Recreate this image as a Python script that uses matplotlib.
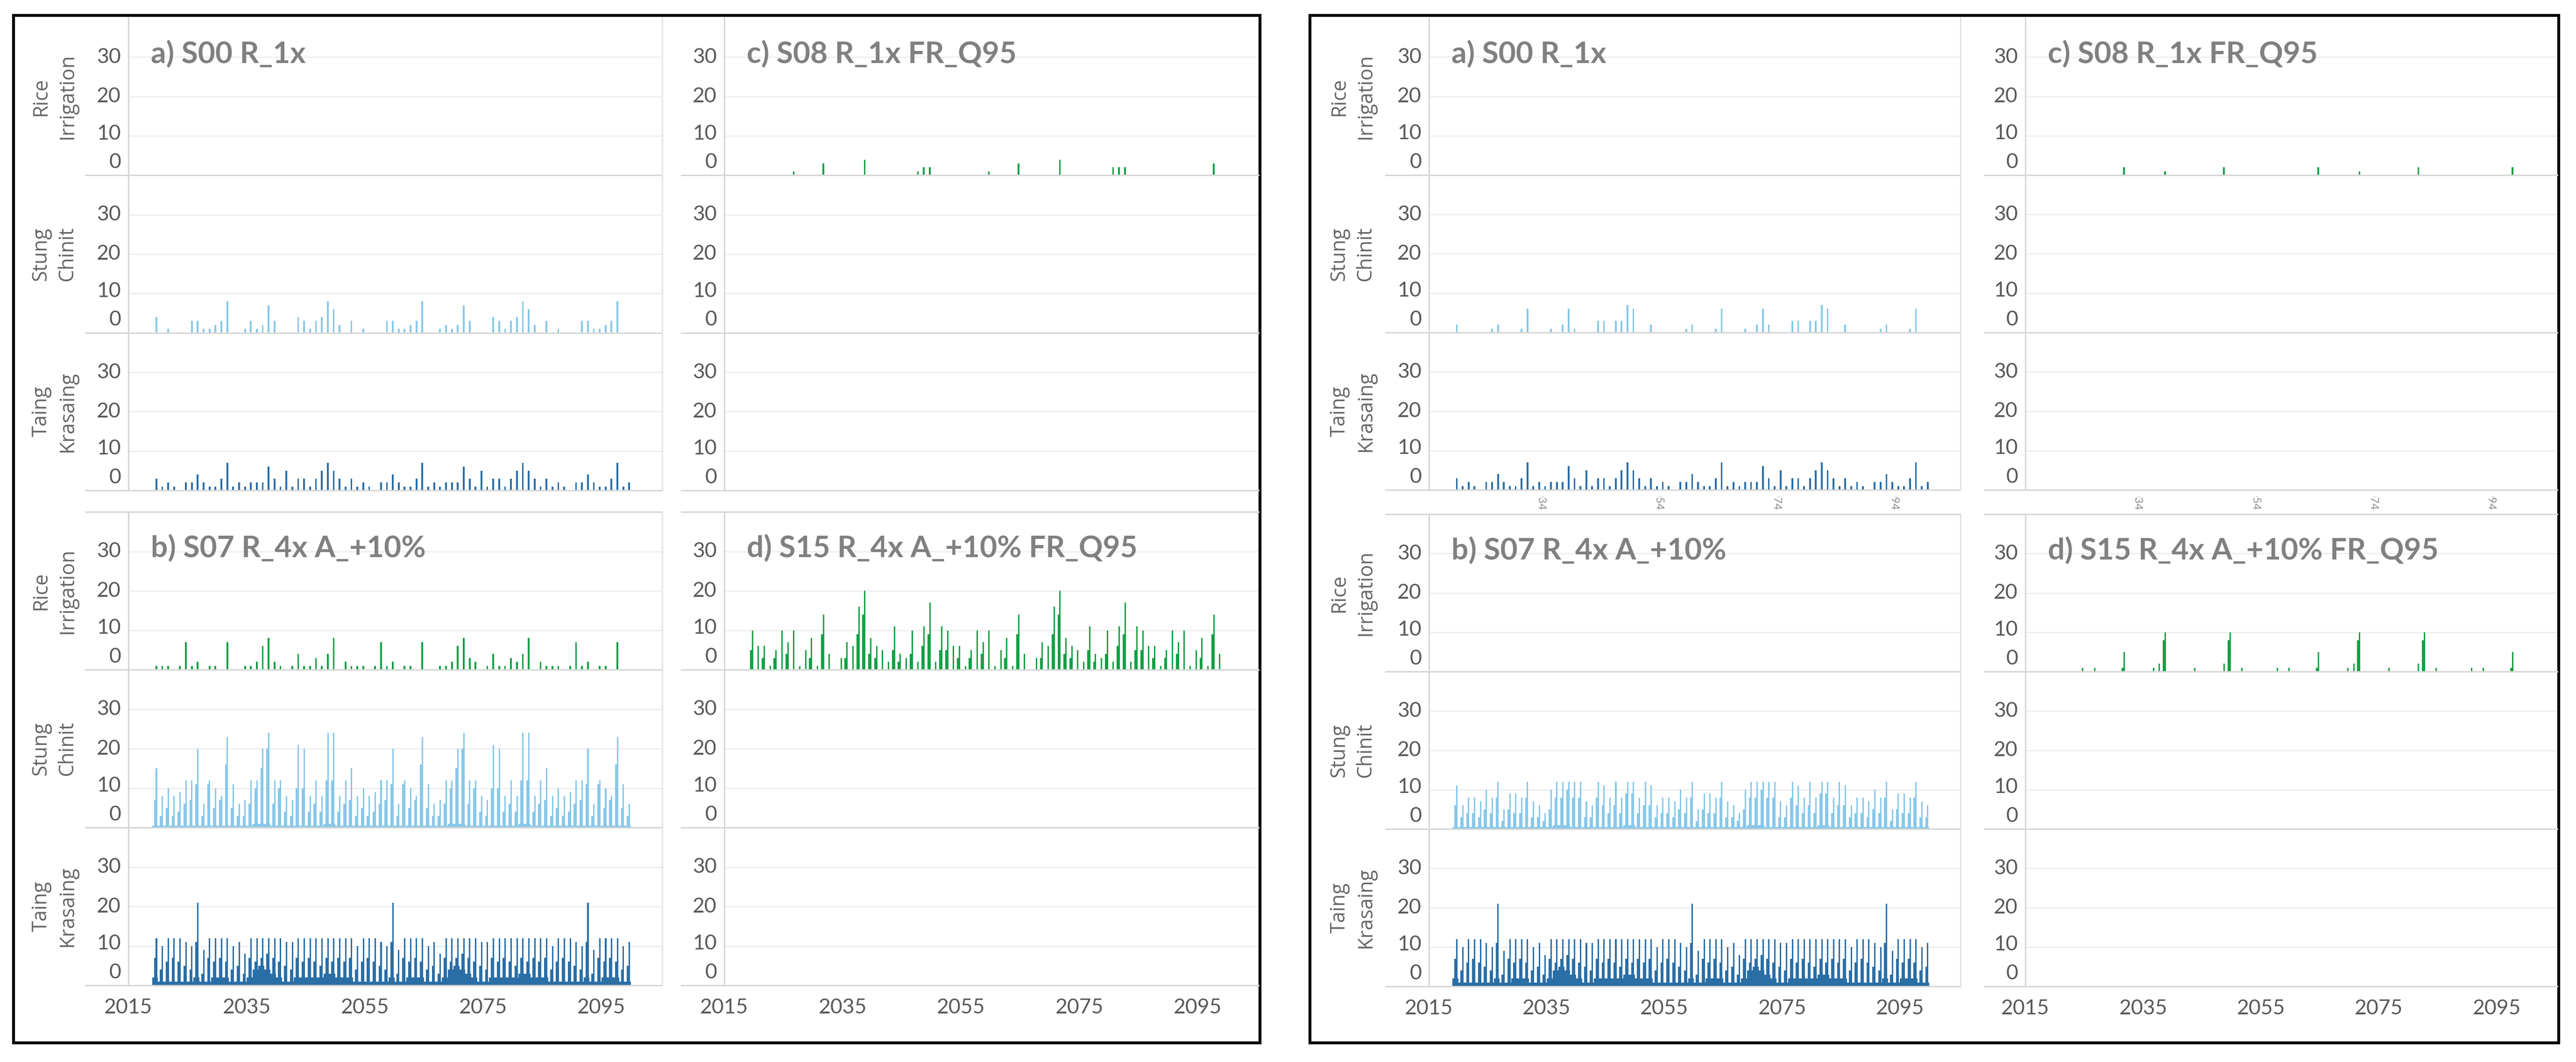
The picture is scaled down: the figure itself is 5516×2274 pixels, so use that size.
import numpy as np
import matplotlib.pyplot as plt
from matplotlib.lines import Line2D
from matplotlib.patches import Rectangle

plt.rcParams['font.family'] = ['Lato', 'DejaVu Sans']

W, H, DPI = 5516, 2274, 100

# one value per year, 2019..2099
years = np.arange(2019, 2100)

rows = ['Rice\nIrrigation', 'Stung\nChinit', 'Taing\nKrasaing']
xticks = [2015, 2035, 2055, 2075, 2095]
strip_ticks = [2034, 2054, 2074, 2094]

# ---------------- left figure ----------------
sc_a_left = [4,0,1,0,0,0,3,3,1,1,2,3,8,0,0,1,3,1,2,7,3,0,0,0,4,3,1,3,4,8,6,2,0,
             3,0,1,0,0,0,3,3,1,1,2,3,8,0,0,1,2,1,2,7,3,0,0,0,4,3,1,3,4,8,6,2,0,
             3,0,1,0,0,0,3,3,1,1,2,3,8,0,0]
tk_a = [3,1,2,1,0,2,2,4,2,1,1,3,7,1,2,1,2,2,2,6,3,1,5,1,3,3,1,3,5,7,5,3,1,
        3,1,2,1,0,2,2,4,2,1,1,3,7,1,2,1,2,2,2,6,3,1,5,1,3,3,1,3,5,7,5,3,1,
        3,1,2,1,0,2,2,4,2,1,1,3,7,1,2]
ri_c_left = [0,0,0,0,0,0,0,1,0,0,0,0,3,0,0,0,0,0,0,4,0,0,0,0,0,0,0,0,1,2,2,0,0,
             0,0,0,0,0,0,0,1,0,0,0,0,3,0,0,0,0,0,0,4,0,0,0,0,0,0,0,0,2,2,2,0,0,
             0,0,0,0,0,0,0,0,0,0,0,0,3,0,0]
ri_b_left = [1,1,1,0,1,7,1,2,0,1,1,0,7,0,0,1,1,2,6,8,2,1,0,1,4,1,1,3,1,4,8,0,2,
             1,1,1,0,1,7,1,2,0,1,1,0,7,0,0,1,1,2,6,8,3,2,0,1,4,1,1,3,2,4,8,0,2,
             1,1,1,0,1,7,1,2,0,1,1,0,7,0,0]
sc_b_peak = [15,8,10,8,9,12,12,20,6,12,10,8,23,11,6,7,12,12,20,24,12,12,8,7,21,20,8,12,8,24,24,8,12,
             15,8,10,8,9,12,12,20,6,12,10,8,23,11,6,7,12,12,20,24,12,12,8,7,21,20,8,12,8,24,24,8,12,
             15,8,10,8,9,12,12,20,6,12,10,8,23,11,6]
sc_b_shoulder = [7,3,5,3,4,6,7,11,3,11,5,7,16,5,3,3,6,10,15,20,6,10,4,3,10,10,4,6,4,12,12,4,6,
                 7,3,5,3,4,6,7,11,3,11,5,7,16,5,3,3,6,10,15,20,6,10,4,3,10,10,4,6,4,12,12,4,6,
                 7,3,5,3,4,6,7,11,3,11,5,7,16,5,3]
sc_b_floor = [.5,.5,.5,.5,.5,.5,.5,.5,.5,.5,.5,.5,.5,.5,.5,.5,.5,1,1,1,.5,.5,.5,.5,.5,.5,.5,.5,.5,1,1,.5,.5,
              .5,.5,.5,.5,.5,.5,.5,.5,.5,.5,.5,.5,.5,.5,.5,.5,.5,1,1,1,.5,.5,.5,.5,.5,.5,.5,.5,.5,1,1,.5,.5,
              .5,.5,.5,.5,.5,.5,.5,.5,.5,.5,.5,.5,.5,.5,.5]
tk_b_peak = [12,10,12,12,12,11,10,21,9,12,12,12,12,10,11,8,12,12,12,12,12,12,11,11,12,12,12,12,12,12,12,12,12,
             12,10,12,12,12,11,10,21,9,12,12,12,12,10,11,8,12,12,12,12,12,12,11,11,12,12,12,12,12,12,12,12,12,
             12,10,12,12,12,11,10,21,9,12,12,12,12,10,11]
tk_b_shoulder = [7,4,6,7,6,5,4,11,3,7,6,7,6,4,5,3,7,6,7,8,7,6,5,4,7,6,7,6,5,7,6,7,6,
                 7,4,6,7,6,5,4,11,3,7,6,7,6,4,5,3,7,6,7,8,7,6,5,4,7,6,7,6,5,7,6,7,6,
                 7,4,6,7,6,5,4,11,3,7,6,7,6,4,5]
tk_b_floor = [2,1,1,1,1,1,1,2,1,1,2,2,2,1,1,1,2,4,5,4,3,2,1,1,2,2,2,2,2,3,3,2,2,
              2,1,1,1,1,1,1,2,1,1,2,2,2,1,1,1,2,4,5,4,3,2,1,1,2,2,2,2,2,3,3,2,2,
              2,1,1,1,1,1,1,2,1,1,2,2,2,1,1]
ri_d_peak = [10,6,6,1,5,10,7,10,1,5,8,1,14,4,0,3,7,6,16,20,8,6,5,2,11,4,3,10,2,11,17,2,11,
             10,6,6,1,5,10,7,10,1,5,8,1,14,4,0,3,7,6,16,20,8,6,5,2,11,4,3,10,2,11,17,2,11,
             10,6,6,1,5,10,7,10,1,5,8,1,14,4,0]
ri_d_shoulder = [5,0,3,0,3,0,4,0,0,0,3,0,9,0,0,0,3,0,9,14,4,3,0,0,5,2,0,4,0,6,9,0,5,
                 5,0,3,0,3,0,4,0,0,0,3,0,9,0,0,0,3,0,9,14,4,3,0,0,5,2,0,4,0,6,9,0,5,
                 5,0,3,0,3,0,4,0,0,0,3,0,9,0,0]

# ---------------- right figure ----------------
sc_a_right = [2,0,0,0,0,0,1,2,0,0,0,1,6,0,0,0,1,0,2,6,1,0,0,0,3,3,0,3,3,7,6,0,0,
              2,0,0,0,0,0,1,2,0,0,0,1,6,0,0,0,1,0,2,6,2,0,0,0,3,3,0,3,3,7,6,0,0,
              2,0,0,0,0,0,1,2,0,0,0,1,6,0,0]
ri_c_right = [0,0,0,0,0,0,0,0,0,0,0,0,2,0,0,0,0,0,0,1,0,0,0,0,0,0,0,0,0,2,0,0,0,
              0,0,0,0,0,0,0,0,0,0,0,0,2,0,0,0,0,0,0,1,0,0,0,0,0,0,0,0,0,2,0,0,0,
              0,0,0,0,0,0,0,0,0,0,0,0,2,0,0]
sc_b_peak_r = [11,6,8,8,7,10,8,12,5,9,9,8,12,7,6,4,10,12,12,12,12,12,7,6,12,11,8,12,8,12,12,8,12,
               11,6,8,8,7,10,8,12,5,9,9,8,12,7,6,4,10,12,12,12,12,12,7,6,12,11,8,12,8,12,12,8,12,
               11,6,8,8,7,10,8,12,5,9,9,8,12,7,6]
sc_b_shoulder_r = [6,3,4,4,3,5,4,8,2,5,4,4,8,3,3,2,5,8,8,10,8,8,3,3,8,6,4,6,4,9,9,4,6,
                   6,3,4,4,3,5,4,8,2,5,4,4,8,3,3,2,5,8,8,10,8,8,3,3,8,6,4,6,4,9,9,4,6,
                   6,3,4,4,3,5,4,8,2,5,4,4,8,3,3]
ri_d_peak_r = [0,0,0,0,0,1,0,1,0,0,0,0,5,0,0,0,0,1,2,10,0,0,0,0,1,0,0,0,0,2,10,0,1,
               0,0,0,0,0,1,0,1,0,0,0,0,5,0,0,0,0,1,2,10,0,0,0,0,1,0,0,0,0,2,10,0,1,
               0,0,0,0,0,1,0,1,0,0,0,0,5,0,0]
ri_d_shoulder_r = [0,0,0,0,0,0,0,0,0,0,0,0,1,0,0,0,0,0,0,8,0,0,0,0,0,0,0,0,0,0,8,0,0,
                   0,0,0,0,0,0,0,0,0,0,0,0,1,0,0,0,0,0,0,8,0,0,0,0,0,0,0,0,0,0,8,0,0,
                   0,0,0,0,0,0,0,0,0,0,0,0,1,0,0]

GREEN = '#14a044'
LIGHT = '#88c8ea'
DARK = '#2a6ea6'
GRID = '#efefef'
SEP = '#d6d6d6'
TXT = '#595959'

fig = plt.figure(figsize=(W / DPI, H / DPI), dpi=DPI)


def fx(x):
    return x / W


def fy(y):
    return 1 - y / H


def hline(x0, x1, y, color=SEP, lw=2.2):
    fig.add_artist(Line2D([fx(x0), fx(x1)], [fy(y), fy(y)], color=color, lw=lw))


def vline(x, y0, y1, color=SEP, lw=2.2):
    fig.add_artist(Line2D([fx(x), fx(x)], [fy(y0), fy(y1)], color=color, lw=lw))


def sparse(ax, vals, color):
    ax.bar(years + 0.72, vals, width=0.3, color=color, linewidth=0)


def dense(ax, peak, shoulder, color, floor=None):
    if floor is not None:
        ax.bar(years + 0.5, floor, width=1.0, color=color, linewidth=0)
    ax.bar(years + 0.52, shoulder, width=0.4, color=color, linewidth=0)
    ax.bar(years + 0.74, peak, width=0.24, color=color, linewidth=0)


def panel(sep_x, x0, x1, y0, y1, title, draws, row_labels, label_x, xlabels, top_line):
    rh = (y1 - y0) / 3
    axes = []
    for i in range(3):
        ry0 = y0 + i * rh
        ry1 = ry0 + rh
        ax = fig.add_axes([fx(x0), fy(ry1), (x1 - x0) / W, rh / H])
        ax.set_xlim(2015, 2105.3)
        ax.set_ylim(0, 40)
        ax.axis('off')
        for g in (10, 20, 30):
            ax.axhline(g, color=GRID, lw=2.2, zorder=0)
        for v in (0, 10, 20, 30):
            dy = {0: 20, 10: 3.5}.get(v, 0)
            ax.annotate(str(v), xy=(0, v), xycoords=('axes fraction', 'data'),
                        xytext=(-11.5, dy), textcoords='offset points',
                        ha='right', va='center', fontsize=32, color=TXT)
        if draws[i] is not None:
            draws[i](ax)
        hline(sep_x, x1, ry1)
        if row_labels:
            fig.text(fx(label_x), fy((ry0 + ry1) / 2), rows[i], rotation=90,
                     ha='center', va='center', fontsize=31, color='#666666',
                     family=['Open Sans', 'DejaVu Sans'], linespacing=1.35,
                     multialignment='center')
        axes.append(ax)
    if top_line:
        hline(sep_x, x1, y0)
    vline(x0, y0, y1)
    fig.text(fx(x0 + 48), fy(y0 + 97), title, fontsize=46, fontweight='bold',
             color='#808080', ha='left', va='baseline')
    if xlabels:
        for yr in xticks:
            axes[2].annotate(str(yr), xy=(yr, 0), xycoords=('data', 'axes fraction'),
                             xytext=(0, -34.5), textcoords='offset points',
                             ha='center', va='center', fontsize=32, color=TXT)
    return axes


def strip(x0, x1, y0, y1):
    # x-axis labels of the upper panels, mostly hidden under the rows above
    ax = fig.add_axes([fx(x0), fy(y1), (x1 - x0) / W, (y1 - y0) / H])
    ax.set_xlim(2015, 2105.3)
    ax.set_ylim(0, 1)
    ax.axis('off')
    for yr in strip_ticks:
        ax.text(yr, 5 / (y1 - y0), str(yr), rotation=270, ha='center', va='bottom',
                fontsize=17, color='#8f8f8f', clip_on=True)


def frame(x0, y0, x1, y1):
    fig.add_artist(Rectangle((fx(x0), fy(y1)), (x1 - x0) / W, (y1 - y0) / H,
                             fill=False, edgecolor='black', lw=4.5,
                             transform=fig.transFigure))


# ---------- left figure ----------
frame(29, 33, 2698, 2233)
panel(183, 275, 1418, 38, 1050, 'a) S00 R_1x',
      [None, lambda ax: sparse(ax, sc_a_left, LIGHT), lambda ax: sparse(ax, tk_a, DARK)],
      True, 116, False, False)
panel(1459, 1551, 2695, 38, 1050, 'c) S08 R_1x FR_Q95',
      [lambda ax: sparse(ax, ri_c_left, GREEN), None, None],
      False, None, False, False)
panel(183, 275, 1418, 1096, 2110, 'b) S07 R_4x A_+10%',
      [lambda ax: sparse(ax, ri_b_left, GREEN),
       lambda ax: dense(ax, sc_b_peak, sc_b_shoulder, LIGHT, sc_b_floor),
       lambda ax: dense(ax, tk_b_peak, tk_b_shoulder, DARK, tk_b_floor)],
      True, 116, True, True)
panel(1459, 1551, 2695, 1096, 2110, 'd) S15 R_4x A_+10% FR_Q95',
      [lambda ax: dense(ax, ri_d_peak, ri_d_shoulder, GREEN), None, None],
      False, None, True, True)
vline(1418, 38, 1050, color='#e4e4e4')
vline(1418, 1096, 2110, color='#e4e4e4')

# ---------- right figure ----------
frame(2805, 33, 5479, 2233)
panel(2967, 3060, 4198, 38, 1049, 'a) S00 R_1x',
      [None, lambda ax: sparse(ax, sc_a_right, LIGHT), lambda ax: sparse(ax, tk_a, DARK)],
      True, 2896, False, False)
panel(4249, 4337, 5476, 38, 1049, 'c) S08 R_1x FR_Q95',
      [lambda ax: sparse(ax, ri_c_right, GREEN), None, None],
      False, None, False, False)
panel(2967, 3060, 4198, 1101, 2112, 'b) S07 R_4x A_+10%',
      [None,
       lambda ax: dense(ax, sc_b_peak_r, sc_b_shoulder_r, LIGHT, sc_b_floor),
       lambda ax: dense(ax, tk_b_peak, tk_b_shoulder, DARK, tk_b_floor)],
      True, 2896, True, True)
panel(4249, 4337, 5476, 1101, 2112, 'd) S15 R_4x A_+10% FR_Q95',
      [lambda ax: dense(ax, ri_d_peak_r, ri_d_shoulder_r, GREEN), None, None],
      False, None, True, True)
vline(4198, 38, 1049, color='#e4e4e4')
vline(4198, 1101, 2112, color='#e4e4e4')
strip(3060, 4198, 1063, 1098)
strip(4337, 5476, 1063, 1098)

fig.savefig('out.png', dpi=DPI, facecolor='white')
